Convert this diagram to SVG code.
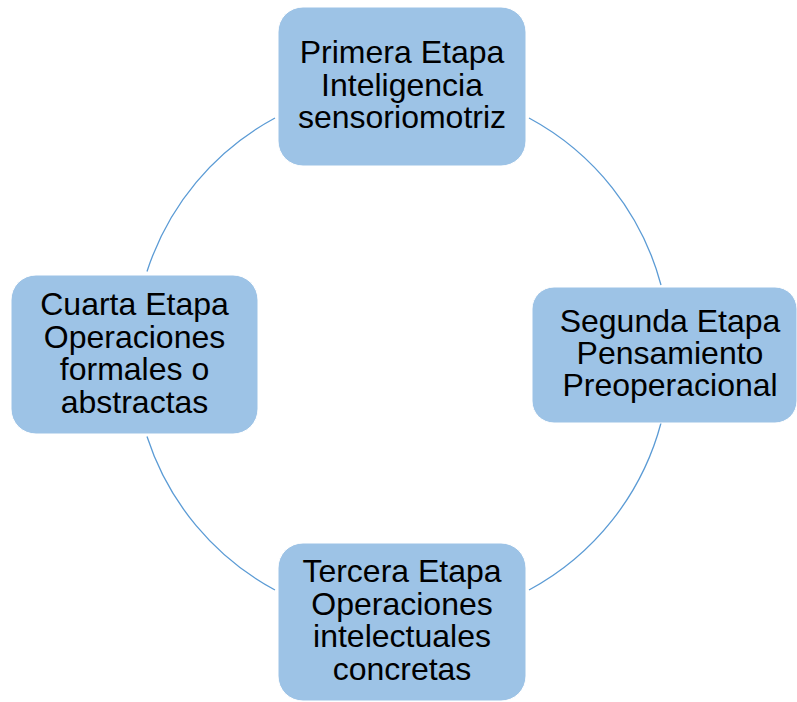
<svg xmlns="http://www.w3.org/2000/svg" width="797" height="702" viewBox="0 0 797 702">
<style>
.box{fill:#9DC3E6;stroke:#ffffff;stroke-width:1}
.lbl{font-family:"Liberation Sans",Arial,sans-serif;font-size:32px;fill:#000000;text-anchor:middle}
.arc{fill:none;stroke:#5B9BD5;stroke-width:1.3}
</style>
<rect width="797" height="702" fill="#ffffff"/>
<g id="connectors">
<path class="arc" d="M275,118 A268,268 0 0 0 147,271.5"/>
<path class="arc" d="M529,118 A268,268 0 0 1 661,285"/>
<path class="arc" d="M661,423 A268,268 0 0 1 529,590"/>
<path class="arc" d="M275,590 A268,268 0 0 1 147,436.5"/>
</g>
<g id="node1">
<rect class="box" x="278" y="7" width="248" height="159" rx="25"/>
<text class="lbl"><tspan x="402" y="63">Primera Etapa</tspan><tspan x="402" y="95.5">Inteligencia</tspan><tspan x="402" y="128">sensoriomotriz</tspan></text>
</g>
<g id="node2">
<rect class="box" x="532" y="287" width="265" height="136" rx="22"/>
<text class="lbl"><tspan x="670" y="331.5">Segunda Etapa</tspan><tspan x="670" y="363.5">Pensamiento</tspan><tspan x="670" y="395.5">Preoperacional</tspan></text>
</g>
<g id="node3">
<rect class="box" x="278" y="543" width="248" height="158" rx="25"/>
<text class="lbl"><tspan x="402" y="582">Tercera Etapa</tspan><tspan x="402" y="614.5">Operaciones</tspan><tspan x="402" y="647">intelectuales</tspan><tspan x="402" y="679.5">concretas</tspan></text>
</g>
<g id="node4">
<rect class="box" x="11" y="275" width="247" height="159" rx="25"/>
<text class="lbl"><tspan x="134.5" y="315">Cuarta Etapa</tspan><tspan x="134.5" y="347.5">Operaciones</tspan><tspan x="134.5" y="380">formales o</tspan><tspan x="134.5" y="412.5">abstractas</tspan></text>
</g>
</svg>
